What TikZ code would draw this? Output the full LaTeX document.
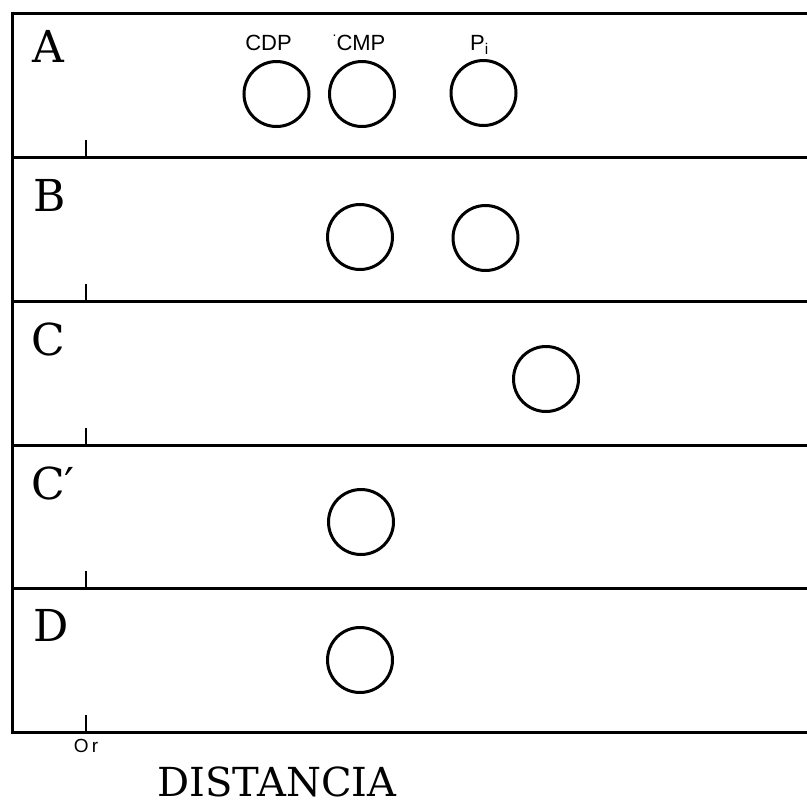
\documentclass[tikz,border=0pt]{standalone}
\usepackage{fontspec}
\newfontfamily\labfont{Liberation Sans}
\newfontfamily\rowfont{DejaVu Serif}
\begin{document}
\begin{tikzpicture}[x=1pt,y=-1pt,
  frameline/.style={line width=3pt},
  tickline/.style={line width=2.6pt},
  spot/.style={circle,draw,line width=3pt,minimum size=65pt,inner sep=0pt},
  rowlab/.style={anchor=base west,inner sep=0pt,font=\rowfont\fontsize{44}{48}\selectfont},
  toplab/.style={anchor=base,inner sep=0pt,font=\labfont\fontsize{22}{24}\selectfont}]
\useasboundingbox (0,0) rectangle (807,804);
% frame
\coordinate (tl) at (12.5,13);
\coordinate (bl) at (12.5,732);
\draw[frameline] (tl) -- (bl);
\foreach \yy/\nm in {13/l0,157/l1,301/l2,445/l3,588/l4,732/l5}{
  \coordinate (\nm w) at (11,\yy);
  \coordinate (\nm e) at (807,\yy);
  \draw[frameline] (\nm w) -- (\nm e);
}
% ticks
\foreach \yy/\nm in {157/t1,301/t2,445/t3,588/t4,732/t5}{
  \coordinate (\nm a) at (86,\yy-17);
  \coordinate (\nm b) at (86,\yy);
  \draw[tickline] (\nm a) -- (\nm b);
}
% row letters
\node[rowlab] (labA) at (32,62) {A};
\node[rowlab] (labB) at (33,211) {B};
\node[rowlab] (labC) at (31,355) {C};
\node[rowlab] (labCp) at (31,499) {C′};
\node[rowlab] (labD) at (33,641) {D};
% row A
\node[spot] (a1) at (276.5,94) {};
\node[spot] (a2) at (362,94) {};
\node[spot] (a3) at (483.5,93) {};
\node[toplab] (tcdp) at (268.5,50) {CDP};
\node[toplab] (tcmp) at (359,50) {\raisebox{0.62em}{\fontsize{14}{14}\selectfont.}CMP};
\node[toplab,anchor=base west] (tpi) at (470,50) {P\textsubscript{i}};
% row B
\node[spot] (b1) at (360,237) {};
\node[spot] (b2) at (485.5,238) {};
% row C
\node[spot] (c1) at (546,379) {};
% row C'
\node[spot] (cp1) at (361,522) {};
% row D
\node[spot] (d1) at (360,660) {};
% axis labels
\node[toplab,font=\labfont\fontsize{19}{20}\selectfont] (orig) at (86,752) {O\,r};
\node[anchor=base,inner sep=0pt,font=\rowfont\fontsize{40}{44}\selectfont] (dist) at (277,796) {DISTANCIA};
\end{tikzpicture}
\end{document}
